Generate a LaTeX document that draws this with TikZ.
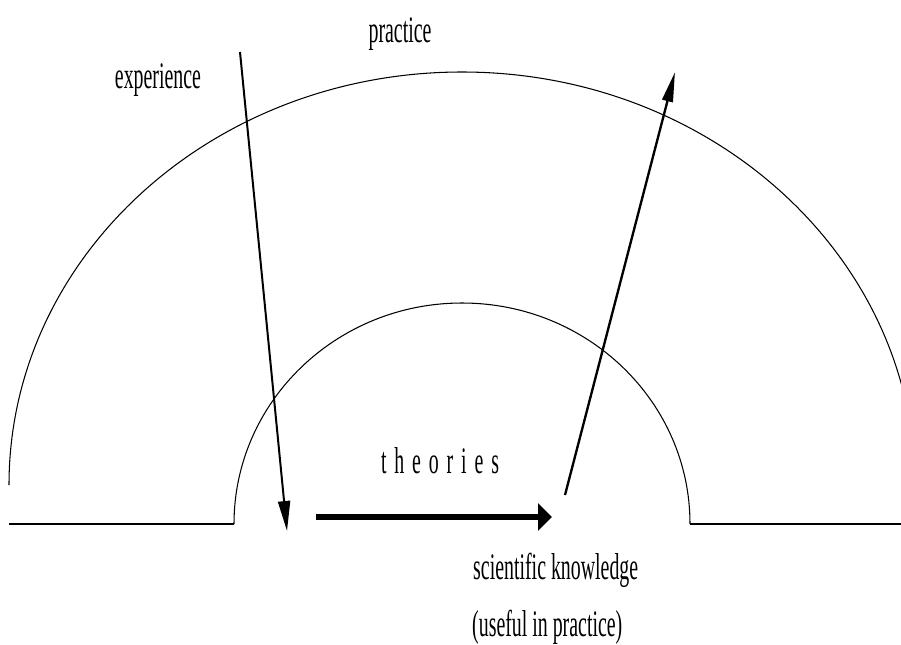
\documentclass[tikz,border=0pt]{standalone}
\usepackage{fontspec}
\setmainfont{Liberation Serif}[FakeStretch=0.53]
\newfontfamily\spacedfont{Liberation Serif}[FakeStretch=0.53,LetterSpace=21]
\usetikzlibrary{arrows.meta}
\tikzset{
	dome/.style={draw=black,line width=0.9pt},
	ground/.style={draw=black,line width=1.6pt},
	flow/.style={draw=black,line width=1.7pt,-{Triangle[length=0.9cm,width=0.36cm]}},
	bigflow/.style={draw=black,line width=5pt,-{Triangle[length=0.42cm,width=0.8cm]}},
	lbl/.style={inner sep=0pt,font=\fontsize{32}{36}\selectfont},
}
\begin{document}
\begin{tikzpicture}[x=0.03cm,y=-0.03cm]
	\useasboundingbox (0,0) rectangle (901,644);
	\clip (0,0) rectangle (901,644);
	% domes and ground
	\coordinate (outL) at (9,485);
	\coordinate (inL) at (234,524);
	\coordinate (inR) at (690,524);
	\coordinate (gL) at (9,524);
	\coordinate (gR) at (905,524);
	\draw[dome] (outL) arc[start angle=180,end angle=360,x radius=453,y radius=413];
	\draw[dome] (inL) arc[start angle=180,end angle=360,x radius=228,y radius=221];
	\draw[ground] (gL) -- (inL);
	\draw[ground] (inR) -- (gR);
	% labels
	\node[lbl,anchor=base] (prac) at (400,42) {practice};
	\node[lbl,anchor=base] (exp) at (158,88) {experience};
	\node[lbl,anchor=base] (theo) at (440,473) {\spacedfont theories};
	\node[lbl,anchor=base west] (sci) at (473,579) {scientific knowledge};
	\node[lbl,anchor=base west] (use) at (472,636) {(useful in practice)};
	% arrows
	\coordinate (expS) at (240,52);
	\coordinate (expE) at (287,531);
	\coordinate (thS) at (316,517);
	\coordinate (thE) at (552,517);
	\coordinate (kS) at (565,495);
	\coordinate (kE) at (675,72);
	\draw[flow] (expS) -- (expE);
	\draw[bigflow] (thS) -- (thE);
	\draw[flow,line width=2pt,-{Triangle[length=0.9cm,width=0.32cm]}] (kS) -- (kE);
\end{tikzpicture}
\end{document}
